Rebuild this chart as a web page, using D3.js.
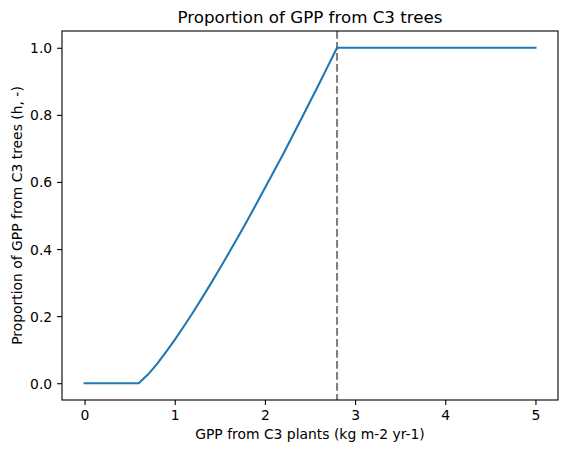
<!DOCTYPE html>
<html>
<head>
<meta charset="utf-8">
<script src="https://cdn.jsdelivr.net/npm/d3@7"></script>
<style>
    body { margin: 0; background: #fff; }
    text { font-family: "DejaVu Sans", sans-serif; fill: #000; }
</style>
</head>
<body>
<div id="chart"></div>
<script>

// Data
const gppValues = [0, 0.6, 0.7, 0.8, 0.9, 1.0, 1.1, 1.2, 1.3, 1.4, 1.5, 1.6, 1.7, 1.8, 1.9,
    2.0, 2.1, 2.2, 2.3, 2.4, 2.5, 2.6, 2.7, 2.8, 5.0]
const proportionValues = [0, 0, 0.025, 0.056, 0.092, 0.129, 0.169, 0.210, 0.253, 0.297, 0.342, 0.388, 0.435, 0.483, 0.532,
    0.582, 0.632, 0.682, 0.734, 0.786, 0.839, 0.892, 0.946, 1.0, 1.0]
const thresholdGpp = 2.8
const xTicks = [0, 1, 2, 3, 4, 5]
const yTicks = [0.0, 0.2, 0.4, 0.6, 0.8, 1.0]

const points = gppValues.map((g, i) => ({x: g, y: proportionValues[i]}))

// Create SVG
let outerWidth = 567
let outerHeight = 454
let margin = {top: 31, bottom: 54, left: 62, right: 9}
let width = outerWidth - margin.left - margin.right
let height = outerHeight - margin.top - margin.bottom

const svg = d3.select("#chart")
    .append("svg")
    .attr("width", outerWidth)
    .attr("height", outerHeight)

const g = svg.append("g")
    .attr("transform", `translate(${margin.left}, ${margin.top})`)

// Scales (matplotlib style 5% margins)
const x = d3.scaleLinear()
    .domain([-0.25, 5.25])
    .range([0, width])

const y = d3.scaleLinear()
    .domain([-0.05, 1.05])
    .range([height, 0])

// Axes
const xAxis = g.append("g")
    .attr("transform", `translate(0, ${height})`)
    .call(d3.axisBottom(x).tickValues(xTicks).tickSize(4.9).tickPadding(4.9).tickFormat(d3.format("d")))

const yAxis = g.append("g")
    .call(d3.axisLeft(y).tickValues(yTicks).tickSize(4.9).tickPadding(4.9).tickFormat(d3.format(".1f")))

for (const ax of [xAxis, yAxis]) {
    ax.select(".domain").remove()
    ax.selectAll(".tick line").attr("stroke", "#000").attr("stroke-width", 1.1)
    ax.selectAll(".tick text")
        .style("font-family", "DejaVu Sans, sans-serif")
        .style("font-size", "13.9px")
}
xAxis.selectAll(".tick text").attr("y", 20.3).attr("dy", null)
yAxis.selectAll(".tick text").attr("dy", "0.36em")

// Threshold line
g.append("line")
    .attr("x1", x(thresholdGpp))
    .attr("x2", x(thresholdGpp))
    .attr("y1", 0)
    .attr("y2", height)
    .attr("stroke", "#808080")
    .attr("stroke-width", 2.08)
    .attr("stroke-dasharray", "7.7,3.3")

// Curve
const line = d3.line()
    .x(d => x(d.x))
    .y(d => y(d.y))

g.append("path")
    .datum(points)
    .attr("d", line)
    .attr("fill", "none")
    .attr("stroke", "#1f77b4")
    .attr("stroke-width", 2.08)
    .attr("stroke-linejoin", "round")
    .attr("stroke-linecap", "square")

// Frame
g.append("rect")
    .attr("width", width)
    .attr("height", height)
    .attr("fill", "none")
    .attr("stroke", "#000")
    .attr("stroke-width", 1.1)

// Labels
svg.append("text")
    .attr("x", margin.left + width / 2)
    .attr("y", 23)
    .attr("text-anchor", "middle")
    .style("font-size", "16.7px")
    .text("Proportion of GPP from C3 trees")

svg.append("text")
    .attr("x", margin.left + width / 2)
    .attr("y", 439)
    .attr("text-anchor", "middle")
    .style("font-size", "13.9px")
    .text("GPP from C3 plants (kg m-2 yr-1)")

svg.append("text")
    .attr("transform", `translate(21.5, ${margin.top + height / 2}) rotate(-90)`)
    .attr("text-anchor", "middle")
    .style("font-size", "13.9px")
    .text("Proportion of GPP from C3 trees (h, -)")

</script>
</body>
</html>
